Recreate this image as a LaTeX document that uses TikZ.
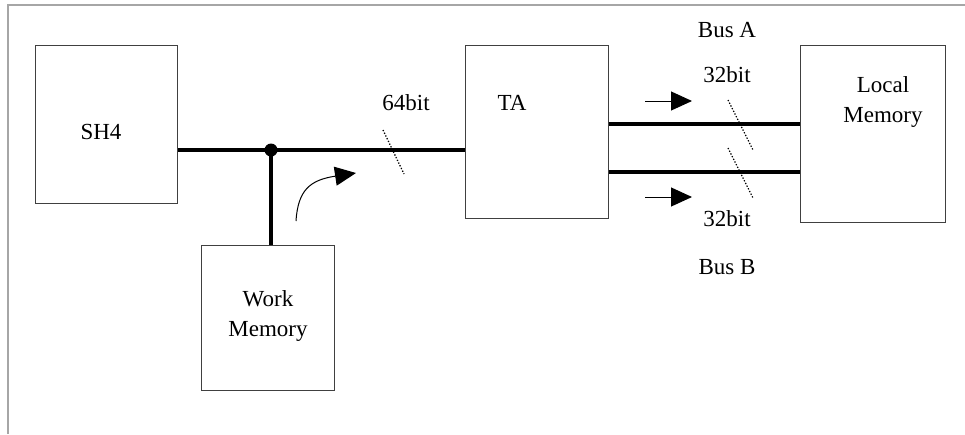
\documentclass[tikz,border=0pt]{standalone}
\usepackage{fontspec}
\setmainfont{Liberation Serif}
\usetikzlibrary{arrows.meta,calc}
\begin{document}
\begin{tikzpicture}[x=1pt,y=-1pt,
  blk/.style={draw=black!75,line width=1.3pt,rectangle,inner sep=0pt,anchor=north west},
  lbl/.style={font=\fontsize{23}{30}\selectfont,align=center,inner sep=0pt},
  bus/.style={line width=4pt},
  slash/.style={line width=1.3pt,dash pattern=on 1.3pt off 1.7pt},
  dir/.style={line width=1pt,-{Triangle[length=21pt,width=19pt]}},
  frame/.style={draw=black!35,line width=1.2pt}]
\useasboundingbox (0,0) rectangle (965,434);
\draw[frame] (8,434) -- (8,5) -- (965,5);
% boxes
\node[blk,minimum width=142pt,minimum height=158pt] (sh4) at (35,45) {};
\node[blk,minimum width=143pt,minimum height=173pt] (ta) at (465,45) {};
\node[blk,minimum width=145pt,minimum height=177pt] (lm) at (800,45) {};
\node[blk,minimum width=133pt,minimum height=145pt] (wm) at (201,245) {};
% texts
\node[lbl] (tsh4) at (101,132) {SH4};
\node[lbl] (tta) at (512,103) {TA};
\node[lbl] (tlm) at (883,102) {Local\\Memory};
\node[lbl] (twm) at (268,316) {Work\\Memory};
\node[lbl] (t64) at (406,103) {64bit};
\node[lbl] (tbusa) at (727,30) {Bus A};
\node[lbl] (t32a) at (727,75) {32bit};
\node[lbl] (t32b) at (727,219) {32bit};
\node[lbl] (tbusb) at (727,267) {Bus B};
% main bus
\coordinate (j) at (271,150);
\draw[bus] (sh4.east |- j) -- (ta.west |- j);
\draw[bus] (j) -- (wm.north -| j);
\node[circle,fill=black,inner sep=0pt,minimum size=13pt] (dot) at (j) {};
% bus A / B
\coordinate (ya) at (0,124);
\coordinate (yb) at (0,172);
\draw[bus] (ta.east |- ya) -- (lm.west |- ya);
\draw[bus] (ta.east |- yb) -- (lm.west |- yb);
% slashes
\coordinate (s1a) at (383,130); \coordinate (s1b) at (404,174);
\draw[slash] (s1a) -- (s1b);
\coordinate (s2a) at (728,100); \coordinate (s2b) at (753,150);
\draw[slash] (s2a) -- (s2b);
\coordinate (s3a) at (728,148); \coordinate (s3b) at (753,198);
\draw[slash] (s3a) -- (s3b);
% direction arrows
\coordinate (c0) at (296,221); \coordinate (c1) at (356,173);
\draw[dir] (c0) .. controls (298,190) and (310,180) .. (c1);
\coordinate (a0) at (645,101); \coordinate (a1) at (692,101);
\draw[dir] (a0) -- (a1);
\coordinate (b0) at (645,197); \coordinate (b1) at (692,197);
\draw[dir] (b0) -- (b1);
\end{tikzpicture}
\end{document}
